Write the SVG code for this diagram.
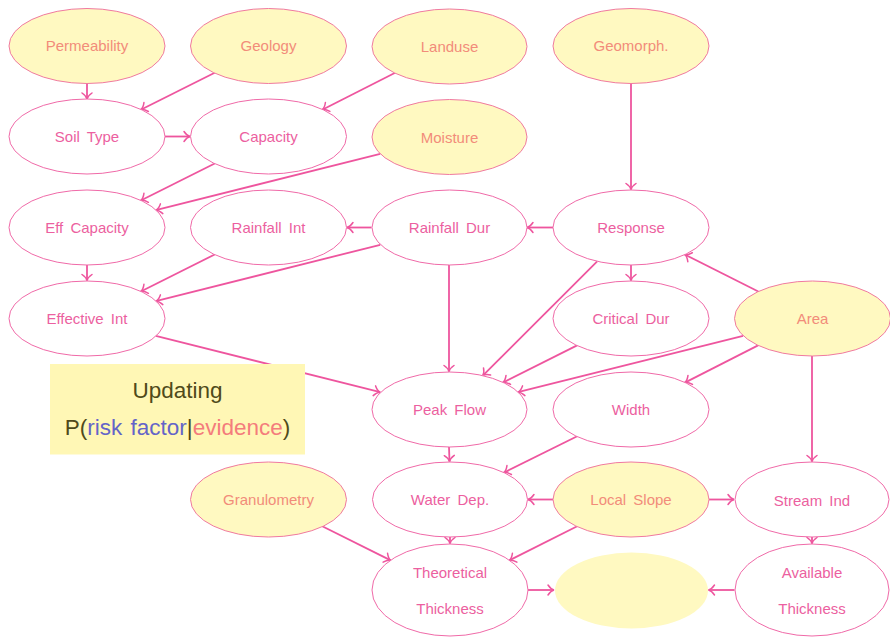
<svg xmlns="http://www.w3.org/2000/svg" width="890" height="637" viewBox="0 0 890 637">
  <defs>
    <marker id="arr" markerUnits="userSpaceOnUse" markerWidth="14" markerHeight="14" refX="0" refY="0" orient="auto" overflow="visible" viewBox="-7 -7 14 14">
      <path d="M-6,-5 C-4,-2 -1.8,-0.4 0,0 C-1.8,0.4 -4,2 -6,5" fill="none" stroke="#EE559E" stroke-width="1.5" stroke-linecap="round"/>
    </marker>
  </defs>
  <style>
    .n ellipse { fill: #ffffff; stroke: #F06AA8; stroke-width: 1; }
    .y ellipse { fill: #FFF9C1; stroke: #F07AA0; stroke-width: 1; }
    .blank ellipse { fill: #FFF9C1; stroke: none; }
    text { font-family: "Liberation Sans", Arial, sans-serif; font-size: 15px; text-anchor: middle; word-spacing: 3px; }
    .n text { fill: #EC5FA0; }
    .y text { fill: #F28C7A; }
    .edges line { stroke: #EE559E; stroke-width: 1.8; marker-end: url(#arr); }
    .note text { font-size: 22.5px; fill: #4F4A1A; word-spacing: 2px; }
  </style>

  <rect width="890" height="637" fill="#ffffff"/>

  <!-- connectors -->
  <g class="edges" id="edges">
    <line x1="87" y1="83.5" x2="87" y2="99"/>
    <line x1="214.7" y1="72.8" x2="140.8" y2="109.7"/>
    <line x1="395.2" y1="72.8" x2="322.3" y2="109.7"/>
    <line x1="164.5" y1="136.5" x2="190" y2="136.5"/>
    <line x1="214.7" y1="163.5" x2="140.8" y2="200.5"/>
    <line x1="380.2" y1="153.8" x2="155.8" y2="210.2"/>
    <line x1="631" y1="83.5" x2="631" y2="189.5"/>
    <line x1="553.5" y1="227.5" x2="527" y2="227.5"/>
    <line x1="371.5" y1="227.5" x2="347" y2="227.5"/>
    <line x1="87" y1="265" x2="87" y2="280.5"/>
    <line x1="214.7" y1="254.5" x2="140.8" y2="291.5"/>
    <line x1="380.2" y1="244.8" x2="155.8" y2="301.2"/>
    <line x1="631" y1="265" x2="631" y2="280.5"/>
    <line x1="758.3" y1="291.5" x2="684.7" y2="254.5"/>
    <line x1="449" y1="265" x2="449" y2="371.5"/>
    <line x1="597.2" y1="261.3" x2="482.8" y2="375.7"/>
    <line x1="577.1" y1="345.4" x2="502.9" y2="382.6"/>
    <line x1="743.1" y1="335.8" x2="517.9" y2="392.2"/>
    <line x1="155.8" y1="335.8" x2="380.2" y2="392.2"/>
    <line x1="758.1" y1="345.4" x2="684.9" y2="382.6"/>
    <line x1="812" y1="356" x2="812" y2="461.5"/>
    <line x1="449" y1="447" x2="449.5" y2="461.5"/>
    <line x1="577.2" y1="436.3" x2="503.8" y2="472.7"/>
    <line x1="553.5" y1="499.5" x2="528" y2="499.5"/>
    <line x1="708.5" y1="499.5" x2="734" y2="499.5"/>
    <line x1="322.3" y1="526.3" x2="390.7" y2="560.4"/>
    <line x1="450" y1="536.5" x2="450" y2="543.5"/>
    <line x1="577.2" y1="526.3" x2="509.3" y2="560.4"/>
    <line x1="812" y1="536.5" x2="812" y2="543.5"/>
    <line x1="527.5" y1="590" x2="554" y2="590"/>
    <line x1="734.5" y1="590" x2="708.5" y2="590"/>
  </g>

  <!-- row 1 -->
  <g id="permeability" class="y"><ellipse cx="87" cy="46" rx="78" ry="37.5"/><text x="87" y="51">Permeability</text></g>
  <g id="geology" class="y"><ellipse cx="268.5" cy="46" rx="78" ry="37.5"/><text x="268.5" y="51">Geology</text></g>
  <g id="landuse" class="y"><ellipse cx="449.5" cy="46.5" rx="77.5" ry="37.5"/><text x="449.5" y="52">Landuse</text></g>
  <g id="geomorph" class="y"><ellipse cx="631" cy="46" rx="78" ry="37.5"/><text x="631" y="50.5">Geomorph.</text></g>

  <!-- row 2 -->
  <g id="soil-type" class="n"><ellipse cx="87" cy="136.5" rx="78" ry="37.5"/><text x="87" y="141.5">Soil Type</text></g>
  <g id="capacity" class="n"><ellipse cx="268.5" cy="136.5" rx="78" ry="37.5"/><text x="268.5" y="141.5">Capacity</text></g>
  <g id="moisture" class="y"><ellipse cx="449.5" cy="137" rx="77.5" ry="37.5"/><text x="449.5" y="142.5">Moisture</text></g>

  <!-- row 3 -->
  <g id="eff-capacity" class="n"><ellipse cx="87" cy="227.5" rx="78" ry="37.5"/><text x="87" y="232.5">Eff Capacity</text></g>
  <g id="rainfall-int" class="n"><ellipse cx="268.5" cy="227.5" rx="78" ry="37.5"/><text x="268.5" y="232.5">Rainfall Int</text></g>
  <g id="rainfall-dur" class="n"><ellipse cx="449.5" cy="227.5" rx="77.5" ry="37.5"/><text x="449.5" y="232.5">Rainfall Dur</text></g>
  <g id="response" class="n"><ellipse cx="631" cy="227.5" rx="78" ry="37.5"/><text x="631" y="232.5">Response</text></g>

  <!-- row 4 -->
  <g id="effective-int" class="n"><ellipse cx="87" cy="318.5" rx="78" ry="37.5"/><text x="87" y="323.5">Effective Int</text></g>
  <g id="critical-dur" class="n"><ellipse cx="631" cy="318.5" rx="78" ry="37.5"/><text x="631" y="323.5">Critical Dur</text></g>
  <g id="area" class="y"><ellipse cx="812.5" cy="318.5" rx="78" ry="37.5"/><text x="812.5" y="323.5">Area</text></g>

  <!-- row 5 -->
  <g id="peak-flow" class="n"><ellipse cx="449.5" cy="409.5" rx="77.5" ry="37.5"/><text x="449.5" y="414.5">Peak Flow</text></g>
  <g id="width" class="n"><ellipse cx="631" cy="409.5" rx="78" ry="37.5"/><text x="631" y="414.5">Width</text></g>

  <!-- row 6 -->
  <g id="granulometry" class="y"><ellipse cx="268.5" cy="499.5" rx="78" ry="37.5"/><text x="268.5" y="504.5">Granulometry</text></g>
  <g id="water-dep" class="n"><ellipse cx="450" cy="499.5" rx="77.5" ry="37.5"/><text x="450" y="504.5">Water Dep.</text></g>
  <g id="local-slope" class="y"><ellipse cx="631" cy="499.5" rx="78" ry="37.5"/><text x="631" y="504.5">Local Slope</text></g>
  <g id="stream-ind" class="n"><ellipse cx="812" cy="499.5" rx="77" ry="37.5"/><text x="812" y="506">Stream Ind</text></g>

  <!-- row 7 -->
  <g id="theoretical-thickness" class="n"><ellipse cx="450" cy="590" rx="78" ry="46"/><text x="450" y="578">Theoretical</text><text x="450" y="613.5">Thickness</text></g>
  <g id="risk" class="blank"><ellipse cx="631.5" cy="590.5" rx="76.5" ry="38"/></g>
  <g id="available-thickness" class="n"><ellipse cx="812" cy="590" rx="77" ry="46"/><text x="812" y="578">Available</text><text x="812" y="613.5">Thickness</text></g>

  <!-- legend box -->
  <g id="updating" class="note">
    <rect x="50" y="364" width="255" height="90.5" fill="#FFF7B5"/>
    <text x="177.5" y="398">Updating</text>
    <text x="177.5" y="435">P(<tspan fill="#6464C8">risk factor</tspan>|<tspan fill="#F47C7C">evidence</tspan>)</text>
  </g>
</svg>
